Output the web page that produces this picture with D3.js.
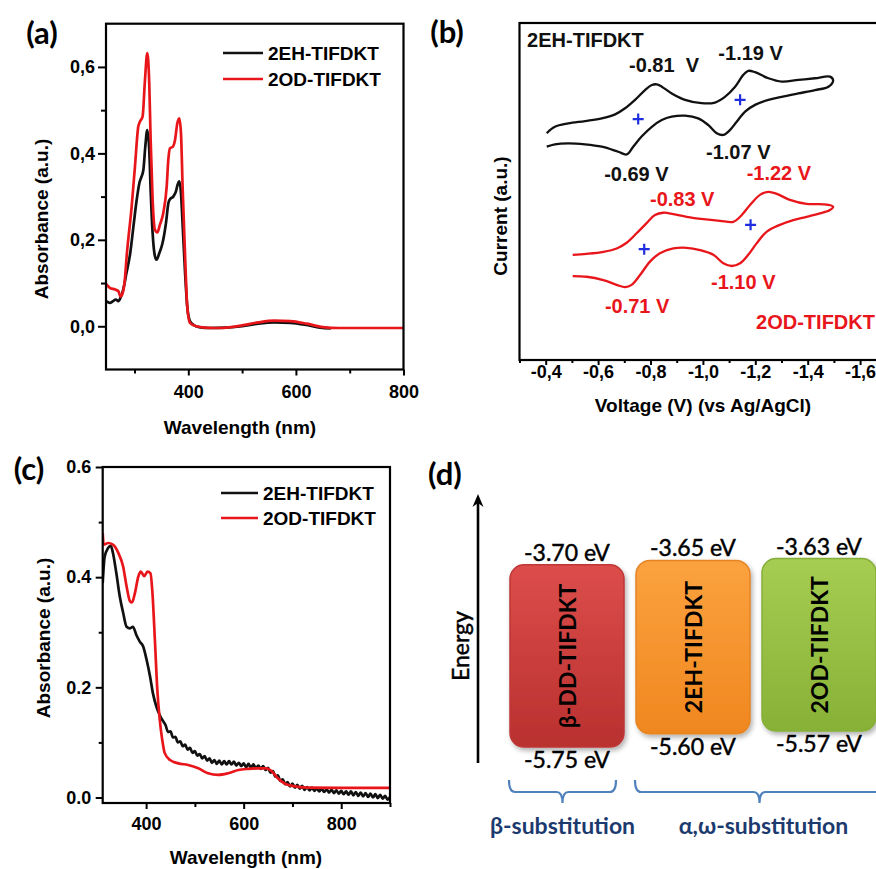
<!DOCTYPE html>
<html><head><meta charset="utf-8">
<script src="https://cdn.jsdelivr.net/npm/d3@7"></script>
<style>
body{margin:0;background:#fff}
svg{display:block}
</style>
</head><body>
<svg id="chart" width="876" height="869"></svg>
<script>
// ================= DATA =================
const seriesNames = ["2EH-TIFDKT", "2OD-TIFDKT"];

// (a) solution absorbance: [wavelength nm, absorbance]
const absA_2EH = [[247,0.058],[254,0.054],[260,0.058],[265,0.062],[270,0.058],[274,0.066],[279,0.085],[285,0.123],[292,0.169],[298,0.231],[304,0.292],[309,0.331],[313,0.346],[316.5,0.362],[320,0.415],[323.7,0.454],[327.4,0.408],[330,0.315],[333.7,0.215],[338,0.162],[341,0.154],[346,0.169],[352,0.192],[358.5,0.239],[363,0.285],[366,0.294],[372,0.300],[377,0.312],[380,0.327],[383.3,0.335],[386.4,0.308],[389.6,0.231],[394,0.123],[398,0.046],[403,0.012],[410,0.003],[420,-0.002],[440,-0.004],[470,-0.003],[500,0.0],[530,0.006],[560,0.009],[590,0.008],[620,0.003],[645,-0.003],[665,-0.005]];
const absA_2OD = [[247,0.098],[254,0.089],[264,0.085],[270,0.081],[274,0.069],[278,0.077],[282,0.108],[285.4,0.162],[294.7,0.277],[300.8,0.369],[307,0.462],[310,0.473],[315,0.485],[319.4,0.569],[323.7,0.632],[327.4,0.562],[330,0.431],[333.7,0.292],[338,0.223],[342.3,0.217],[347.3,0.235],[353.5,0.262],[359.8,0.323],[362.8,0.385],[366,0.412],[371,0.415],[375.3,0.431],[379.5,0.469],[383.3,0.481],[386.4,0.446],[389.6,0.315],[394,0.162],[398,0.046],[403,0.008],[415,0.0],[430,-0.003],[450,-0.004],[480,-0.002],[500,0.002],[530,0.009],[560,0.013],[590,0.012],[620,0.006],[650,-0.002],[680,-0.004],[720,-0.004],[800,-0.004]];
const aXTicks = [400, 600, 800];
const aXMinor = [300, 500, 700];
const aYTicks = [0, 0.2, 0.4, 0.6];
const aYMinor = [0.1, 0.3, 0.5];

// (b) cyclic voltammetry: [voltage V, current a.u.] along the scan
const cv_2EH = [[-0.404,6.73],[-0.435,6.92],[-0.486,7.02],[-0.550,7.09],[-0.614,7.17],[-0.665,7.29],[-0.703,7.47],[-0.741,7.72],[-0.779,8.01],[-0.805,8.16],[-0.824,8.18],[-0.843,8.11],[-0.881,7.91],[-0.932,7.72],[-0.995,7.62],[-1.046,7.64],[-1.084,7.81],[-1.123,8.11],[-1.154,8.46],[-1.173,8.58],[-1.199,8.54],[-1.250,8.36],[-1.301,8.26],[-1.364,8.31],[-1.428,8.36],[-1.485,8.41],[-1.497,8.30],
  [-1.479,8.11],[-1.428,8.01],[-1.364,7.91],[-1.301,7.81],[-1.250,7.72],[-1.199,7.57],[-1.161,7.37],[-1.129,7.07],[-1.103,6.82],[-1.078,6.68],[-1.053,6.73],[-1.021,6.97],[-0.982,7.17],[-0.932,7.25],[-0.881,7.22],[-0.843,7.12],[-0.805,6.92],[-0.766,6.63],[-0.734,6.33],[-0.709,6.10],[-0.677,6.18],[-0.614,6.33],[-0.550,6.40],[-0.486,6.43],[-0.435,6.40],[-0.404,6.33]];
const cv_2OD = [[-0.503,3.12],[-0.556,3.15],[-0.620,3.21],[-0.671,3.31],[-0.709,3.48],[-0.747,3.76],[-0.785,4.06],[-0.817,4.30],[-0.849,4.37],[-0.887,4.33],[-0.938,4.25],[-1.002,4.18],[-1.065,4.13],[-1.116,4.10],[-1.142,4.25],[-1.180,4.60],[-1.218,4.90],[-1.250,4.99],[-1.282,4.93],[-1.332,4.75],[-1.396,4.63],[-1.460,4.62],[-1.497,4.55],
  [-1.485,4.45],[-1.447,4.35],[-1.396,4.25],[-1.345,4.15],[-1.294,4.01],[-1.244,3.81],[-1.205,3.46],[-1.173,3.12],[-1.142,2.87],[-1.110,2.79],[-1.078,2.87],[-1.040,3.12],[-0.989,3.26],[-0.938,3.33],[-0.887,3.31],[-0.836,3.17],[-0.798,2.92],[-0.760,2.52],[-0.728,2.23],[-0.703,2.16],[-0.671,2.23],[-0.620,2.37],[-0.556,2.47],[-0.503,2.49]];
const halfWave_2EH = [[-0.753,7.15],[-1.142,7.72]];
const halfWave_2OD = [[-0.776,3.29],[-1.182,4.01]];
// peak labels: text, left voltage, current (vertical centre), series index
const cvLabels = [
  ["2EH-TIFDKT", -0.329, 9.50, 0],
  ["-0.81  V", -0.718, 8.75, 0],
  ["-1.19 V", -1.059, 9.11, 0],
  ["-0.69 V", -0.623, 5.52, 0],
  ["-1.07 V", -1.012, 6.17, 0],
  ["-1.22 V", -1.167, 5.56, 1],
  ["-0.83 V", -0.798, 4.78, 1],
  ["-1.10 V", -1.031, 2.30, 1],
  ["-0.71 V", -0.626, 1.60, 1],
  ["2OD-TIFDKT", -1.203, 1.14, 1]
];
const bXTicks = [-0.4, -0.6, -0.8, -1.0, -1.2, -1.4, -1.6];
const bXMinor = [-0.3, -0.5, -0.7, -0.9, -1.1, -1.3, -1.5, -1.7];

// (c) film absorbance: [wavelength nm, absorbance]
const absC_2EH = [[311,0.389],[315,0.437],[322,0.453],[327.6,0.457],[332,0.444],[339,0.407],[346,0.365],[353,0.335],[360,0.310],[367,0.307],[373,0.310],[380,0.295],[387,0.283],[394,0.274],[401,0.250],[408,0.220],[414,0.189],[421,0.165],[431,0.144],
  [440,0.131],[445,0.119],[450,0.120],[455,0.109],[460,0.110],[465,0.100],[470,0.102],[475,0.093],[480,0.096],[485,0.087],[490,0.090],[495,0.081],[500,0.084],[505,0.076],[510,0.079],[515,0.071],[520,0.075],[525,0.067],[530,0.071],[535,0.063],[540,0.068],[545,0.061],[550,0.067],[555,0.060],[560,0.066],[565,0.060],[570,0.066],[575,0.060],[580,0.065],[585,0.058],[590,0.063],[595,0.057],[600,0.062],[605,0.055],[610,0.061],[615,0.054],[620,0.060],[625,0.053],[630,0.058],[635,0.052],[640,0.057],[645,0.050],[650,0.054],[655,0.045],[660,0.048],[665,0.038],[670,0.040],[675,0.030],[680,0.033],[685,0.024],[690,0.028],[695,0.020],[700,0.025],[705,0.018],[710,0.023],[715,0.016],[720,0.021],[725,0.014],[730,0.019],[735,0.013],[740,0.018],[745,0.012],[750,0.017],[755,0.011],[760,0.016],[765,0.010],[770,0.015],[775,0.009],[780,0.014],[785,0.008],[790,0.013],[795,0.007],[800,0.012],[805,0.006],[810,0.011],[815,0.005],[820,0.011],[825,0.004],[830,0.010],[835,0.003],[840,0.009],[845,0.002],[850,0.008],[855,0.001],[860,0.007],[865,0.000],[870,0.006],[875,-0.001],[880,0.005],[885,-0.002],[890,0.003],[895,-0.004],[900,0.001]];
const absC_2OD = [[311,0.480],[313,0.459],[322,0.462],[332,0.459],[343,0.444],[353,0.419],[360,0.383],[367,0.356],[371,0.354],[377,0.371],[384,0.401],[389,0.410],[396,0.402],[403,0.410],[409,0.407],[413,0.371],[418,0.286],[423,0.195],[428,0.141],[433,0.105],[438,0.081],[449,0.068],[466,0.062],[486,0.059],[507,0.053],[527,0.044],[548,0.041],[568,0.044],[589,0.050],[609,0.052],[630,0.053],[647,0.053],[657,0.048],[670,0.035],[685,0.025],[700,0.021],[730,0.018],[800,0.0175],[900,0.0175]];
const cXTicks = [400, 600, 800];
const cXMinor = [500, 700, 900];
const cYTicks = [0, 0.2, 0.4, 0.6];
const cYMinor = [0.1, 0.3, 0.5];

// (d) energy levels (eV)
const compounds = ["β-DD-TIFDKT", "2EH-TIFDKT", "2OD-TIFDKT"];
const lumo = [-3.70, -3.65, -3.63];
const homo = [-5.75, -5.60, -5.57];
const substitutionGroups = [["β-substitution", [0]], ["α,ω-substitution", [1, 2]]];

// ================= STYLE =================
const ARIAL = "'Liberation Sans', Arial, sans-serif";
const LATO = "Lato, 'Open Sans', sans-serif";
const BLACK = "#111", RED = "#e8161b", BLUE = "#1f2fe0";
const colors = [BLACK, RED];
const boxFill = [["#dc4d4b","#b9302f","#bf3736"],["#fba23f","#f0871f","#e58424"],["#a6cd52","#87b136","#86ae3a"]];

const svg = d3.select("#chart");
const defs = svg.append("defs");

function styleAxis(g, fs) {
  g.select(".domain").remove();
  g.selectAll(".tick line").attr("stroke", "#000").attr("stroke-width", 2);
  g.selectAll(".tick text").attr("font-family", ARIAL).attr("font-weight", "bold")
    .attr("font-size", fs).attr("fill", "#000");
}
function axis(parent, gen, scale, values, size, pad, fmt, tx, ty) {
  const a = gen(scale).tickValues(values).tickSize(size).tickPadding(pad).tickFormat(fmt || "");
  const g = parent.append("g").attr("transform", `translate(${tx},${ty})`).call(a);
  styleAxis(g, 18);
  return g;
}
function clip(id, x0, y0, x1, y1) {
  defs.append("clipPath").attr("id", id).append("rect")
    .attr("x", x0).attr("y", y0).attr("width", x1 - x0).attr("height", y1 - y0);
}
function boldText(parent, t, x, y, fs, opts = {}) {
  return parent.append("text").text(t).attr("x", x).attr("y", y)
    .attr("font-family", opts.font || ARIAL).attr("font-weight", opts.weight || "bold")
    .attr("font-size", fs).attr("fill", opts.fill || "#000")
    .attr("text-anchor", opts.anchor || "middle").attr("dominant-baseline", "central")
    .attr("transform", opts.rot ? `rotate(${opts.rot},${x},${y})` : null);
}
const commaFmt = v => (v < 0 ? "-" : "") + d3.format(".1f")(Math.abs(v)).replace(".", ",");
const dotFmt = v => d3.format(".1f")(v);

// ================= PANEL (a) =================
{
  const x = d3.scaleLinear().domain([247, 800]).range([106, 403.5]);
  const y = d3.scaleLinear().domain([-0.1, 0.7]).range([369.5, 23.7]);
  const g = svg.append("g");
  clip("clipA", 106, 23.7, 403.5, 369.5);
  const line = d3.line().x(d => x(d[0])).y(d => y(d[1])).curve(d3.curveMonotoneX);
  [absA_2EH, absA_2OD].forEach((s, i) =>
    g.append("path").datum(s).attr("d", line).attr("fill", "none").attr("stroke", colors[i])
      .attr("stroke-width", 2.7).attr("stroke-linejoin", "round").attr("clip-path", "url(#clipA)"));
  axis(g, d3.axisBottom, x, aXTicks, 6, 10, d3.format("d"), 0, 369.5);
  axis(g, d3.axisBottom, x, aXMinor, 4, 0, null, 0, 369.5);
  axis(g, d3.axisLeft, y, aYTicks, 8, 3, commaFmt, 106, 0);
  axis(g, d3.axisLeft, y, aYMinor, 5, 0, null, 106, 0);
  g.append("rect").attr("x", 106).attr("y", 23.7).attr("width", 297.5).attr("height", 345.8)
    .attr("fill", "none").attr("stroke", "#000").attr("stroke-width", 2.2);
  boldText(g, "Absorbance (a.u.)", 41, 219, 19, { rot: -90 });
  boldText(g, "Wavelength (nm)", 240, 427, 19);
  seriesNames.forEach((n, i) => {
    g.append("line").attr("x1", 223).attr("x2", 263).attr("y1", 53 + i * 26).attr("y2", 53 + i * 26)
      .attr("stroke", colors[i]).attr("stroke-width", 2.7);
    boldText(g, n, 268, 53 + i * 26, 19, { anchor: "start" });
  });
  boldText(g, "(a)", 42, 32, 31, { font: LATO });
}

// ================= PANEL (b) =================
{
  const x = d3.scaleLinear().domain([-0.3, -1.7]).range([519.5, 886.3]);
  const y = d3.scaleLinear().domain([0, 10]).range([360, 23]);
  const g = svg.append("g");
  const line = d3.line().x(d => x(d[0])).y(d => y(d[1])).curve(d3.curveCatmullRom.alpha(0.5));
  [cv_2EH, cv_2OD].forEach((s, i) =>
    g.append("path").datum(s).attr("d", line).attr("fill", "none").attr("stroke", colors[i])
      .attr("stroke-width", 2.3).attr("stroke-linejoin", "round"));
  [halfWave_2EH, halfWave_2OD].forEach(s => s.forEach(p => {
    const cx = x(p[0]), cy = y(p[1]);
    g.append("path").attr("d", `M${cx - 5.5},${cy}H${cx + 5.5}M${cx},${cy - 5.5}V${cy + 5.5}`)
      .attr("stroke", BLUE).attr("stroke-width", 2.2);
  }));
  cvLabels.forEach(l => boldText(g, l[0], x(l[1]), y(l[2]), 20, { anchor: "start", fill: colors[l[3]] })
    .attr("xml:space", "preserve").style("white-space", "pre"));
  axis(g, d3.axisBottom, x, bXTicks, 5, 0, commaFmt, 0, 360);
  axis(g, d3.axisBottom, x, bXMinor, 3, 0, null, 0, 360);
  g.append("rect").attr("x", 519.5).attr("y", 23).attr("width", 366.8).attr("height", 337)
    .attr("fill", "none").attr("stroke", "#000").attr("stroke-width", 2.2);
  boldText(g, "Current (a.u.)", 500, 216, 19, { rot: -90 });
  boldText(g, "Voltage (V) (vs Ag/AgCl)", 703, 405, 19);
  boldText(g, "(b)", 447, 31, 31, { font: LATO });
}

// ================= PANEL (c) =================
{
  const x = d3.scaleLinear().domain([311, 900]).range([102.7, 390]);
  const y = d3.scaleLinear().domain([-0.01, 0.6]).range([803, 467]);
  const g = svg.append("g");
  clip("clipC", 102.7, 467, 390, 803);
  const line = d3.line().x(d => x(d[0])).y(d => y(d[1])).curve(d3.curveMonotoneX);
  [absC_2EH, absC_2OD].forEach((s, i) =>
    g.append("path").datum(s).attr("d", line).attr("fill", "none").attr("stroke", colors[i])
      .attr("stroke-width", 2.7).attr("stroke-linejoin", "round").attr("clip-path", "url(#clipC)"));
  axis(g, d3.axisBottom, x, cXTicks, 6, 8, d3.format("d"), 0, 803);
  axis(g, d3.axisBottom, x, cXMinor, 4, 0, null, 0, 803);
  axis(g, d3.axisLeft, y, cYTicks, 7, 4.5, dotFmt, 102.7, 0);
  axis(g, d3.axisLeft, y, cYMinor, 4, 0, null, 102.7, 0);
  g.append("rect").attr("x", 102.7).attr("y", 467).attr("width", 287.3).attr("height", 336)
    .attr("fill", "none").attr("stroke", "#000").attr("stroke-width", 2.2);
  boldText(g, "Absorbance (a.u.)", 43, 638, 19, { rot: -90 });
  boldText(g, "Wavelength (nm)", 246, 857, 19);
  seriesNames.forEach((n, i) => {
    g.append("line").attr("x1", 221).attr("x2", 258).attr("y1", 493 + i * 25).attr("y2", 493 + i * 25)
      .attr("stroke", colors[i]).attr("stroke-width", 2.7);
    boldText(g, n, 263, 493 + i * 25, 19, { anchor: "start" });
  });
  boldText(g, "(c)", 29, 468, 31, { font: LATO });
}

// ================= PANEL (d) =================
{
  const g = svg.append("g");
  const xb = d3.scaleBand().domain(compounds).range([510, 876]).paddingInner(12 / 126).paddingOuter(0);
  const ey = d3.scaleLinear().domain([-3.0, -6.0]).range([502.6, 769.3]);
  const bw = xb.bandwidth();
  boxFill.forEach((c, i) => {
    const gr = defs.append("linearGradient").attr("id", "bg" + i).attr("x1", 0).attr("x2", 0).attr("y1", 0).attr("y2", 1);
    gr.append("stop").attr("offset", 0).attr("stop-color", c[0]);
    gr.append("stop").attr("offset", 1).attr("stop-color", c[1]);
  });
  const f = defs.append("filter").attr("id", "shadow").attr("x", -0.2).attr("y", -0.2).attr("width", 1.4).attr("height", 1.4);
  f.append("feDropShadow").attr("dx", 2).attr("dy", 3).attr("stdDeviation", 2.5).attr("flood-color", "#000").attr("flood-opacity", 0.3);

  // energy arrow
  const ax = 478;
  g.append("line").attr("x1", ax).attr("x2", ax).attr("y1", 763).attr("y2", 500).attr("stroke", "#000").attr("stroke-width", 2.6);
  g.append("path").attr("d", `M${ax},494 L${ax - 5.5},507 L${ax},503 L${ax + 5.5},507 Z`).attr("fill", "#000");
  boldText(g, "Energy", 460, 646, 23, { font: LATO, weight: "normal", rot: -90 })
    .attr("stroke", "#000").attr("stroke-width", 0.45);

  compounds.forEach((c, i) => {
    const x0 = xb(c), yt = ey(lumo[i]), yb = ey(homo[i]);
    g.append("rect").attr("x", x0).attr("y", yt).attr("width", bw).attr("height", yb - yt)
      .attr("rx", 14).attr("fill", `url(#bg${i})`).attr("stroke", boxFill[i][2]).attr("stroke-width", 1.5)
      .attr("filter", "url(#shadow)");
    boldText(g, c, x0 + bw / 2, (yt + yb) / 2, 23, { font: LATO, rot: -90 });
    boldText(g, lumo[i].toFixed(2) + " eV", x0 + bw / 2, yt - 13, 23, { font: LATO, weight: "normal" })
      .attr("stroke", "#000").attr("stroke-width", 0.45);
    boldText(g, homo[i].toFixed(2) + " eV", x0 + bw / 2, yb + 12, 23, { font: LATO, weight: "normal" })
      .attr("stroke", "#000").attr("stroke-width", 0.45);
  });

  substitutionGroups.forEach((grp, k) => {
    const first = compounds[grp[1][0]], last = compounds[grp[1][grp[1].length - 1]];
    const x0 = xb(first) - 1, x1 = xb(last) + bw + (k === 0 ? -8 : 8);
    const xm = (x0 + x1) / 2, y0 = 780, y1 = 792, y2 = 803, r = 6;
    g.append("path").attr("d",
      `M${x0},${y0} Q${x0},${y1} ${x0 + r},${y1} L${xm - r},${y1} Q${xm},${y1} ${xm},${y2} Q${xm},${y1} ${xm + r},${y1} L${x1 - r},${y1} Q${x1},${y1} ${x1},${y0}`)
      .attr("fill", "none").attr("stroke", "#4f81bd").attr("stroke-width", 2.2);
    boldText(g, grp[0], xm + (k === 0 ? 0 : 4), 825, 23, { font: LATO, fill: "#1c3a6e" });
  });
  boldText(g, "(d)", 445, 473, 31, { font: LATO });
}
</script>
</body></html>
